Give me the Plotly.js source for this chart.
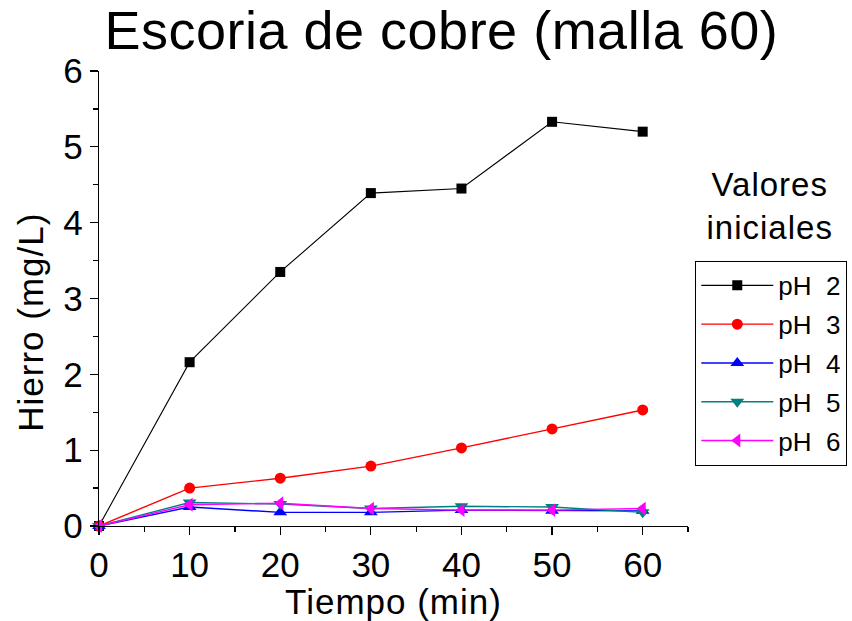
<!DOCTYPE html>
<html>
<head>
<meta charset="utf-8">
<script src="https://cdn.plot.ly/plotly-3.0.1.min.js"></script>
<style>
  html, body { margin: 0; padding: 0; background: #fff; }
  #chart { width: 852px; height: 621px; }
  /* slightly open letter spacing for the larger labels */
  #chart .xtitle, #chart .annotation-text { letter-spacing: 1px; }
  #chart .gtitle { letter-spacing: 0.5px; }
</style>
</head>
<body>
<div id="chart"></div>
<script>
// Time of sampling (min)
const tiempo = [0, 10, 20, 30, 40, 50, 60];

// Dissolved iron (mg/L) for each initial pH
const ph2 = [0.00, 2.16, 3.35, 4.39, 4.45, 5.33, 5.20];
const ph3 = [0.00, 0.50, 0.63, 0.79, 1.03, 1.28, 1.53];
const ph4 = [0.00, 0.25, 0.18, 0.18, 0.21, 0.20, 0.20];
const ph5 = [0.00, 0.31, 0.29, 0.23, 0.26, 0.25, 0.18];
const ph6 = [0.00, 0.28, 0.30, 0.23, 0.21, 0.21, 0.23];

const seriesNames = ['pH  2', 'pH  3', 'pH  4', 'pH  5', 'pH  6'];
const seriesData = [ph2, ph3, ph4, ph5, ph6];
const seriesColors = ['#000000', '#ff0000', '#0000ff', '#008080', '#ff00ff'];
const seriesSymbols = ['square', 'circle', 'triangle-up', 'triangle-down', 'triangle-left'];
const seriesSizes = [10, 11, 12, 12, 12];
const seriesWidths = [1.1, 1.4, 1.4, 1.4, 1.4];

const FONT = 'Liberation Sans, Arial, sans-serif';

const traces = seriesData.map((ys, i) => ({
  type: 'scatter',
  mode: 'lines+markers',
  x: tiempo,
  y: ys,
  name: seriesNames[i],
  legendgroup: 'g' + i,
  line: { color: seriesColors[i], width: seriesWidths[i] },
  marker: { symbol: seriesSymbols[i], size: seriesSizes[i], color: seriesColors[i] },
  cliponaxis: false
}));

const axisCommon = {
  showgrid: false,
  zeroline: false,
  showline: true,
  linecolor: '#000',
  linewidth: 1.2,
  ticks: 'outside',
  ticklen: 8,
  tickwidth: 1.2,
  tickcolor: '#000',
  tickfont: { family: FONT, size: 35, color: '#000' },
  minor: { ticks: 'outside', ticklen: 5, tickwidth: 1.2, tickcolor: '#000' }
};

const layout = {
  width: 852,
  height: 621,
  margin: { l: 99, r: 164, t: 71, b: 95, autoexpand: false },
  paper_bgcolor: '#fff',
  plot_bgcolor: '#fff',
  title: {
    text: 'Escoria de cobre (malla 60)',
    font: { family: FONT, size: 54, color: '#000' },
    x: 0.518, xanchor: 'center',
    y: 0.952, yanchor: 'middle'
  },
  xaxis: Object.assign({}, axisCommon, {
    range: [0, 65],
    tick0: 0, dtick: 10,
    minor: Object.assign({}, axisCommon.minor, { dtick: 5 }),
    title: { text: 'Tiempo (min)', font: { family: FONT, size: 35, color: '#000' }, standoff: 2 }
  }),
  yaxis: Object.assign({}, axisCommon, {
    range: [0, 6],
    tick0: 0, dtick: 1,
    minor: Object.assign({}, axisCommon.minor, { dtick: 0.5 })
  }),
  showlegend: true,
  legend: {
    x: 1.012, xanchor: 'left',
    y: 0.583, yanchor: 'top',
    bordercolor: '#000',
    borderwidth: 1.2,
    bgcolor: '#fff',
    font: { family: FONT, size: 26, color: '#000' },
    traceorder: 'grouped',
    tracegroupgap: 2,
    itemwidth: 72
  },
  annotations: [
    {
      // legend heading
      text: 'Valores<br>iniciales',
      xref: 'paper', yref: 'paper',
      x: 1.139, y: 0.703,
      xanchor: 'center', yanchor: 'middle',
      showarrow: false,
      align: 'center',
      font: { family: FONT, size: 33, color: '#000' }
    },
    {
      // y-axis title, set a little below the axis midpoint
      text: 'Hierro (mg/L)',
      xref: 'paper', yref: 'paper',
      x: -0.117, y: 0.448,
      xanchor: 'center', yanchor: 'middle',
      textangle: -90,
      showarrow: false,
      font: { family: FONT, size: 35, color: '#000' }
    }
  ]
};

Plotly.newPlot('chart', traces, layout, { displayModeBar: false, staticPlot: true });
</script>
</body>
</html>
